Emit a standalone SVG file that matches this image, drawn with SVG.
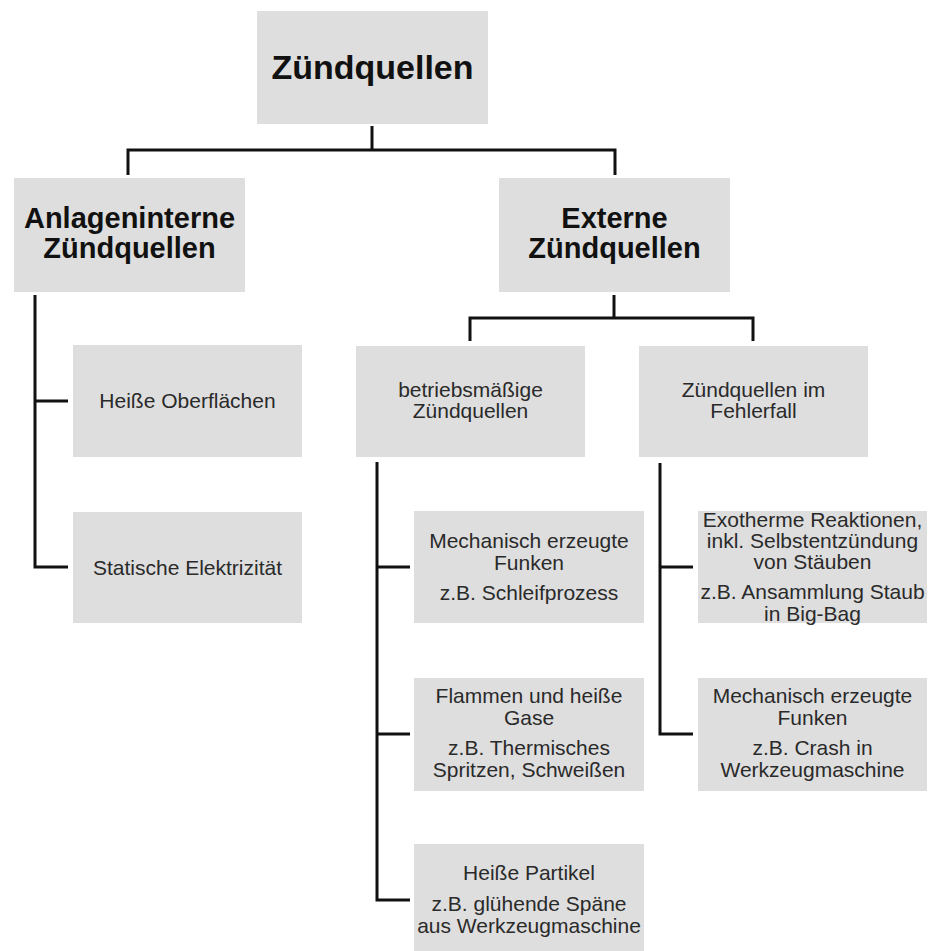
<svg xmlns="http://www.w3.org/2000/svg" width="932" height="951" viewBox="0 0 932 951">
<style>
.box{fill:#dedede}
.t{font-family:"Liberation Sans",Arial,sans-serif;fill:#2a2a2a;text-anchor:middle;font-size:21px}
.h{font-family:"Liberation Sans",Arial,sans-serif;fill:#111;text-anchor:middle;font-weight:bold}
.c{fill:none;stroke:#111;stroke-width:3;stroke-linejoin:miter}
</style>
<rect width="932" height="951" fill="#fff"/>
<g id="connectors">
<path class="c" d="M372,126 V150"/>
<path class="c" d="M128,175 V150 H615 V175"/>
<path class="c" d="M35,295 V567 H68"/>
<path class="c" d="M35,401 H68"/>
<path class="c" d="M614,295 V318"/>
<path class="c" d="M470,341 V318 H753 V341"/>
<path class="c" d="M377,462 V900 H410"/>
<path class="c" d="M377,567 H410"/>
<path class="c" d="M377,734 H410"/>
<path class="c" d="M660,463 V734 H693"/>
<path class="c" d="M660,567 H693"/>
</g>
<g id="root">
<rect class="box" x="257" y="11" width="231" height="113"/>
<text class="h" x="372.5" y="79" font-size="34">Zündquellen</text>
</g>
<g id="anlageninterne">
<rect class="box" x="14" y="178" width="231" height="114"/>
<text class="h" x="129.5" y="228" font-size="29">Anlageninterne</text>
<text class="h" x="129.5" y="258" font-size="29">Zündquellen</text>
</g>
<g id="externe">
<rect class="box" x="499" y="178" width="231" height="114"/>
<text class="h" x="614.5" y="228" font-size="29">Externe</text>
<text class="h" x="614.5" y="258" font-size="29">Zündquellen</text>
</g>
<g id="heisse-oberflaechen">
<rect class="box" x="73" y="345" width="229" height="112"/>
<text class="t" x="187.5" y="408">Heiße Oberflächen</text>
</g>
<g id="statische-elektrizitaet">
<rect class="box" x="73" y="512" width="229" height="111"/>
<text class="t" x="187.5" y="575">Statische Elektrizität</text>
</g>
<g id="betriebsmaessige">
<rect class="box" x="356" y="346" width="229" height="111"/>
<text class="t" x="470.5" y="397">betriebsmäßige</text>
<text class="t" x="470.5" y="418">Zündquellen</text>
</g>
<g id="fehlerfall">
<rect class="box" x="639" y="346" width="229" height="111"/>
<text class="t" x="753.5" y="397">Zündquellen im</text>
<text class="t" x="753.5" y="418">Fehlerfall</text>
</g>
<g id="mech-funken-1">
<rect class="box" x="414" y="511" width="230" height="112"/>
<text class="t" x="529" y="548">Mechanisch erzeugte</text>
<text class="t" x="529" y="570">Funken</text>
<text class="t" x="529" y="600">z.B. Schleifprozess</text>
</g>
<g id="flammen">
<rect class="box" x="414" y="678" width="230" height="113"/>
<text class="t" x="529" y="703">Flammen und heiße</text>
<text class="t" x="529" y="725">Gase</text>
<text class="t" x="529" y="755">z.B. Thermisches</text>
<text class="t" x="529" y="777">Spritzen, Schweißen</text>
</g>
<g id="heisse-partikel">
<rect class="box" x="414" y="844" width="230" height="113"/>
<text class="t" x="529" y="880">Heiße Partikel</text>
<text class="t" x="529" y="911">z.B. glühende Späne</text>
<text class="t" x="529" y="933">aus Werkzeugmaschine</text>
</g>
<g id="exotherme">
<rect class="box" x="698" y="511" width="229" height="112"/>
<text class="t" x="812.5" y="527">Exotherme Reaktionen,</text>
<text class="t" x="812.5" y="548">inkl. Selbstentzündung</text>
<text class="t" x="812.5" y="569">von Stäuben</text>
<text class="t" x="812.5" y="599">z.B. Ansammlung Staub</text>
<text class="t" x="812.5" y="621">in Big-Bag</text>
</g>
<g id="mech-funken-2">
<rect class="box" x="698" y="678" width="229" height="113"/>
<text class="t" x="812.5" y="703">Mechanisch erzeugte</text>
<text class="t" x="812.5" y="725">Funken</text>
<text class="t" x="812.5" y="755">z.B. Crash in</text>
<text class="t" x="812.5" y="777">Werkzeugmaschine</text>
</g>
</svg>
